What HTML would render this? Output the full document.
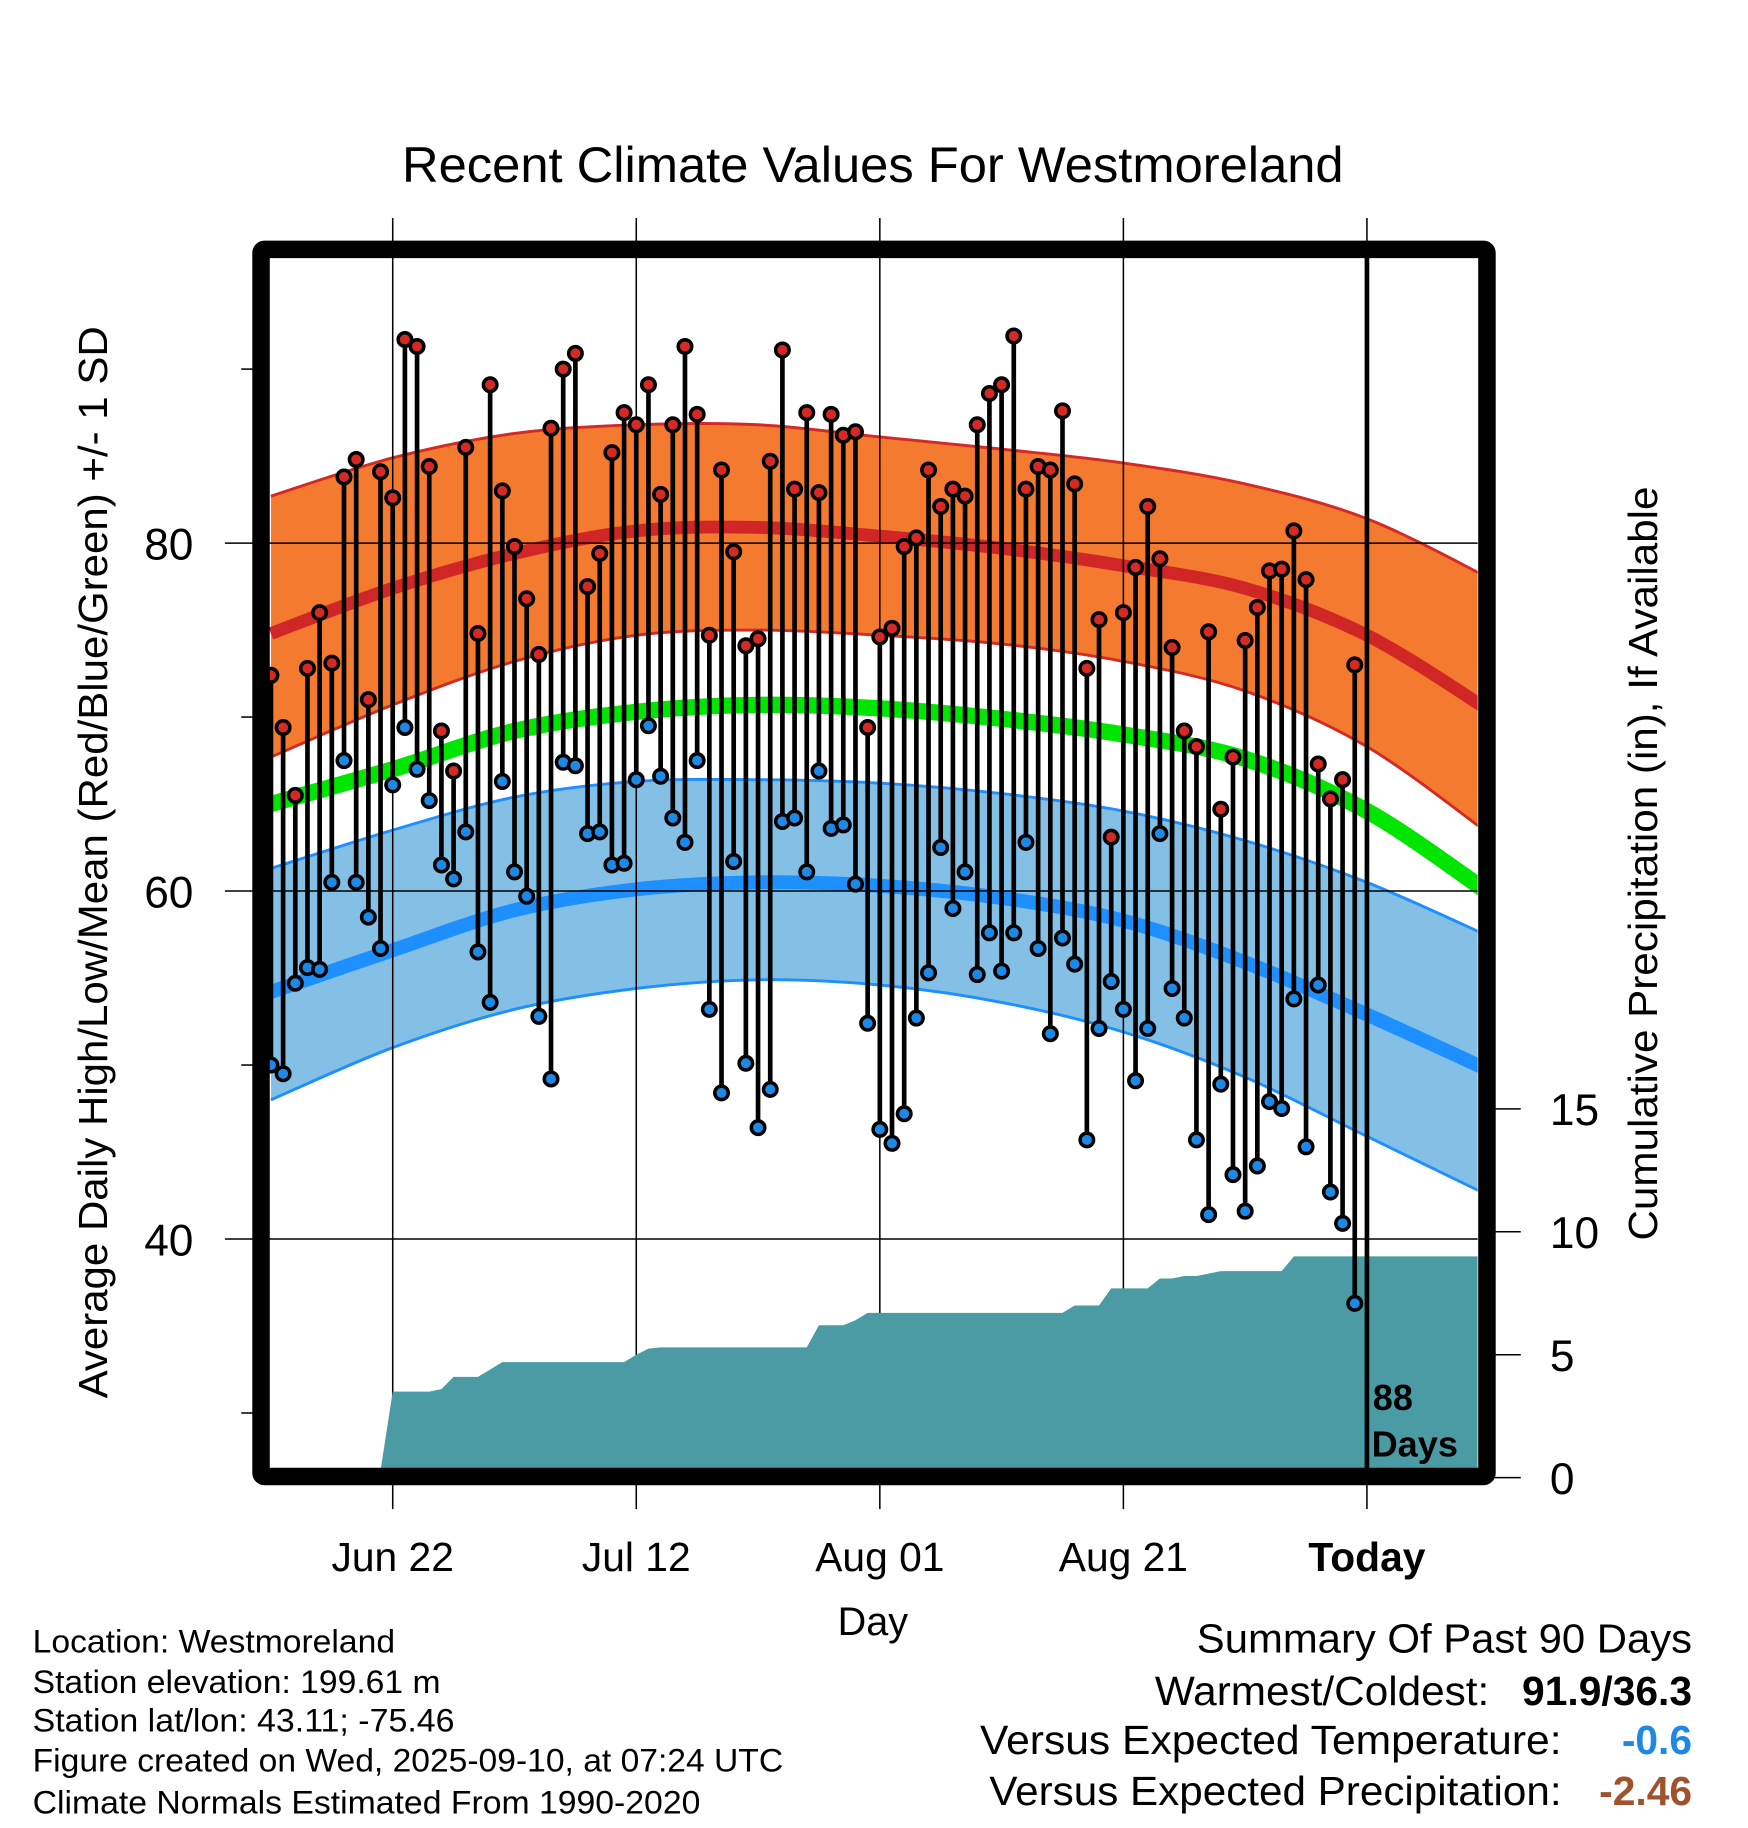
<!DOCTYPE html>
<html><head><meta charset="utf-8"><style>
html,body{margin:0;padding:0;background:#fff;}
svg{display:block;font-family:"Liberation Sans",sans-serif;}
</style></head><body>
<svg id="chart" width="1748" height="1828" viewBox="0 0 1500 1568.6" xmlns="http://www.w3.org/2000/svg">
<g id="bands"></g><g id="grid"></g><g id="precip"></g><g id="stems"></g><g id="axes"></g>
<text x="749" y="156" font-size="43" text-anchor="middle" textLength="808" lengthAdjust="spacingAndGlyphs">Recent Climate Values For Westmoreland</text>
<text transform="translate(92,740) rotate(-90)" font-size="35" text-anchor="middle" textLength="920" lengthAdjust="spacingAndGlyphs">Average Daily High/Low/Mean (Red/Blue/Green) +/- 1 SD</text>
<text transform="translate(1422,741) rotate(-90)" font-size="35" text-anchor="middle" textLength="647" lengthAdjust="spacingAndGlyphs">Cumulative Precipitation (in), If Available</text>
<text x="749" y="1403" font-size="34" text-anchor="middle">Day</text>
<g font-size="28">
<text x="28" y="1418" textLength="311" lengthAdjust="spacingAndGlyphs">Location: Westmoreland</text>
<text x="28" y="1453" textLength="350" lengthAdjust="spacingAndGlyphs">Station elevation: 199.61 m</text>
<text x="28" y="1486" textLength="362" lengthAdjust="spacingAndGlyphs">Station lat/lon: 43.11; -75.46</text>
<text x="28" y="1520" textLength="644" lengthAdjust="spacingAndGlyphs">Figure created on Wed, 2025-09-10, at 07:24 UTC</text>
<text x="28" y="1556" textLength="573" lengthAdjust="spacingAndGlyphs">Climate Normals Estimated From 1990-2020</text>
</g>
<g font-size="35">
<text x="1027" y="1418" textLength="425" lengthAdjust="spacingAndGlyphs">Summary Of Past 90 Days</text>
<text x="991" y="1463" textLength="287" lengthAdjust="spacingAndGlyphs">Warmest/Coldest:</text>
<text x="1452" y="1463" font-weight="bold" text-anchor="end">91.9/36.3</text>
<text x="841" y="1505" textLength="499" lengthAdjust="spacingAndGlyphs">Versus Expected Temperature:</text>
<text x="1452" y="1505" font-weight="bold" fill="#1e88e5" text-anchor="end">-0.6</text>
<text x="849" y="1549" textLength="491" lengthAdjust="spacingAndGlyphs">Versus Expected Precipitation:</text>
<text x="1452" y="1549" font-weight="bold" fill="#a0522d" text-anchor="end">-2.46</text>
</g>
</svg>
<script>
const highs=[72.4,69.4,65.5,72.8,76.0,73.1,83.8,84.8,71.0,84.1,82.6,91.7,91.3,84.4,69.2,66.9,85.5,74.8,89.1,83.0,79.8,76.8,73.6,86.6,90.0,90.9,77.5,79.4,85.2,87.5,86.8,89.1,82.8,86.8,91.3,87.4,74.7,84.2,79.5,74.1,74.5,84.7,91.1,83.1,87.5,82.9,87.4,86.2,86.4,69.4,74.6,75.1,79.8,80.3,84.2,82.1,83.1,82.7,86.8,88.6,89.1,91.9,83.1,84.4,84.2,87.6,83.4,72.8,75.6,63.1,76.0,78.6,82.1,79.1,74.0,69.2,68.3,74.9,64.7,67.7,74.4,76.3,78.4,78.5,80.7,77.9,67.3,65.3,66.4,73.0];
const lows=[50.0,49.5,54.7,55.6,55.5,60.5,67.5,60.5,58.5,56.7,66.1,69.4,67.0,65.2,61.5,60.7,63.4,56.5,53.6,66.3,61.1,59.7,52.8,49.2,67.4,67.2,63.3,63.4,61.5,61.6,66.4,69.5,66.6,64.2,62.8,67.5,53.2,48.4,61.7,50.1,46.4,48.6,64.0,64.2,61.1,66.9,63.6,63.8,60.4,52.4,46.3,45.5,47.2,52.7,55.3,62.5,59.0,61.1,55.2,57.6,55.4,57.6,62.8,56.7,51.8,57.3,55.8,45.7,52.1,54.8,53.2,49.1,52.1,63.3,54.4,52.7,45.7,41.4,48.9,43.7,41.6,44.2,47.9,47.5,53.8,45.3,54.6,42.7,40.9,36.3];
const precip=[0,0,0,0,0,0,0.05,0.2,0.25,0.3,3.5,3.5,3.5,3.5,3.6,4.1,4.1,4.1,4.4,4.7,4.7,4.7,4.7,4.7,4.7,4.7,4.7,4.7,4.7,4.7,5.0,5.25,5.3,5.3,5.3,5.3,5.3,5.3,5.3,5.3,5.3,5.3,5.3,5.3,5.3,6.2,6.2,6.2,6.4,6.7,6.7,6.7,6.7,6.7,6.7,6.7,6.7,6.7,6.7,6.7,6.7,6.7,6.7,6.7,6.7,6.7,7.0,7.0,7.0,7.7,7.7,7.7,7.7,8.1,8.1,8.2,8.2,8.3,8.4,8.4,8.4,8.4,8.4,8.4,9.0,9.0,9.0,9.0,9.0,9.0];
const normDays=[-10,0,10,20,30,40,50,60,70,80,90];
const normHigh=[74.8,77.4,79.4,80.7,80.9,80.4,79.7,78.7,77.4,74.7,70.4];
const normHighUp=[82.7,84.9,86.3,86.8,86.8,86.1,85.4,84.6,83.4,81.4,78.0];
const normHighLo=[67.7,70.7,73.2,74.7,75.0,74.7,74.2,73.2,71.5,68.3,63.3];
const normMean=[65.0,67.0,69.2,70.3,70.7,70.5,69.9,69.0,67.6,64.6,59.9];
const normLow=[54.2,56.6,58.9,60.1,60.5,60.3,59.6,58.3,55.9,52.9,49.7];
const normLowUp=[61.3,63.5,65.4,66.3,66.4,66.2,65.6,64.6,62.9,60.5,57.4];
const normLowLo=[48.0,51.0,53.2,54.4,54.9,54.6,53.6,51.9,49.3,45.9,42.5];
const xTickDays=[0,20,40,60,80];
const xTickLabels=["Jun 22","Jul 12","Aug 01","Aug 21","Today"];
const yTicks=[40,60,80];
const yMinorTicks=[30,50,70,90];
const y2Ticks=[0,5,10,15];
const firstDay=-10;
const NS="http://www.w3.org/2000/svg";
const PL=231,PR=1268,PT=221,PB=1260;
function xs(d){return 337+10.45*d;}
function ys(t){return 466-(t-80)*14.93;}
function yp(p){return 1268-p*21.1;}
function mk(tag,attrs,parent){const e=document.createElementNS(NS,tag);for(const k in attrs)e.setAttribute(k,attrs[k]);parent.appendChild(e);return e;}
function seg(pts){let d="";for(let i=0;i<pts.length-1;i++){const p0=pts[Math.max(0,i-1)],p1=pts[i],p2=pts[i+1],p3=pts[Math.min(pts.length-1,i+2)];
 d+=" C"+(p1[0]+(p2[0]-p0[0])/6)+","+(p1[1]+(p2[1]-p0[1])/6)+" "+(p2[0]-(p3[0]-p1[0])/6)+","+(p2[1]-(p3[1]-p1[1])/6)+" "+p2[0]+","+p2[1];}return d;}
function pts(vals){let p=[];for(let i=0;i<normDays.length;i++)p.push([xs(normDays[i]),ys(vals[i])]);return p;}
function curve(vals){const p=pts(vals);return "M"+p[0][0]+","+p[0][1]+seg(p);}
function band(up,lo){const a=pts(up),b=pts(lo).reverse();
 return "M"+a[0][0]+","+a[0][1]+seg(a)+" L"+b[0][0]+","+b[0][1]+seg(b)+"Z";}
const svg=document.getElementById('chart');
const defs=mk('defs',{},svg);
const cp=mk('clipPath',{id:'plotclip'},defs);mk('rect',{x:PL,y:PT,width:PR-PL,height:PB-PT},cp);
const bands=document.getElementById('bands');bands.setAttribute('clip-path','url(#plotclip)');
let e;
e=mk('path',{d:band(normHighUp,normHighLo),fill:'#f47a30'},bands);


e=mk('path',{d:band(normLowUp,normLowLo),fill:'#84c0e6'},bands);


[[normHighUp,'#d42a25',2.5,'high-upper-edge'],[normHighLo,'#d42a25',2.5,'high-lower-edge'],[normHigh,'#d02626',11,'normal-high-line'],[normMean,'#00e600',14,'normal-mean-line'],[normLowUp,'#1e8fff',2.5,'low-upper-edge'],[normLowLo,'#1e8fff',2.5,'low-lower-edge'],[normLow,'#1e8fff',12,'normal-low-line']].forEach(c=>{
 const p=mk('path',{d:curve(c[0]),fill:'none',stroke:c[1],'stroke-width':c[2]},bands);
 
 
});
const grid=document.getElementById('grid');
xTickDays.forEach((d,i)=>{
 const l=mk('line',{x1:xs(d),x2:xs(d),y1:187,y2:1295,stroke:'#000','stroke-width':1.3},grid);
 
 
 const t=mk('text',{x:xs(d),y:1348,'font-size':35,'text-anchor':'middle'},grid);
 if(i===xTickLabels.length-1)t.setAttribute('font-weight','bold');
 t.textContent=xTickLabels[i];
 
 
});
yTicks.forEach(v=>{
 const l=mk('line',{x1:193,x2:PR,y1:ys(v),y2:ys(v),stroke:'#000','stroke-width':1.3},grid);
 
 
 const t=mk('text',{x:166,y:ys(v)+14,'font-size':38,'text-anchor':'end'},grid);
 t.textContent=v;
 
 
});
yMinorTicks.forEach(v=>{
 const l=mk('line',{x1:207,x2:218,y1:ys(v),y2:ys(v),stroke:'#000','stroke-width':1.3},grid);
 
 
});
y2Ticks.forEach(v=>{
 const l=mk('line',{x1:1282,x2:1305,y1:yp(v),y2:yp(v),stroke:'#000','stroke-width':1.3},grid);
 
 
 const t=mk('text',{x:1330,y:yp(v)+14,'font-size':38},grid);
 t.textContent=v;
 
 
});
const pg=document.getElementById('precip');pg.setAttribute('clip-path','url(#plotclip)');
let pd="M"+xs(firstDay)+","+yp(0);
precip.forEach((p,i)=>{pd+=" L"+xs(firstDay+i)+","+yp(p);});
pd+=" L"+PR+","+yp(precip[precip.length-1])+" L"+PR+","+PB+" L"+PL+","+PB+" L"+PL+","+yp(0)+"Z";
e=mk('path',{d:pd,fill:'#4a9ba3'},pg);


const sg=document.getElementById('stems');
highs.forEach((h,i)=>{
 const x=xs(firstDay+i);
 const s=mk('line',{x1:x,x2:x,y1:ys(h),y2:ys(lows[i]),stroke:'#000','stroke-width':4},sg);
 
 
});
highs.forEach((h,i)=>{
 const x=xs(firstDay+i);
 const c1=mk('circle',{cx:x,cy:ys(h),r:5.8,fill:'#d42a25',stroke:'#000','stroke-width':3},sg);
 
 
 const c2=mk('circle',{cx:x,cy:ys(lows[i]),r:5.8,fill:'#1e88e5',stroke:'#000','stroke-width':3},sg);
 
 
});
const ax=document.getElementById('axes');
e=mk('line',{x1:xs(80),x2:xs(80),y1:PT,y2:PB,stroke:'#000','stroke-width':4},ax);


e=mk('text',{x:1178,y:1210,'font-size':31,'font-weight':'bold'},ax);e.textContent='88';


e=mk('text',{x:1177,y:1250,'font-size':31,'font-weight':'bold'},ax);e.textContent='Days';


e=mk('rect',{x:224,y:214,width:1052,height:1053,fill:'none',stroke:'#000','stroke-width':15,rx:3},ax);


</script>
</body></html>
